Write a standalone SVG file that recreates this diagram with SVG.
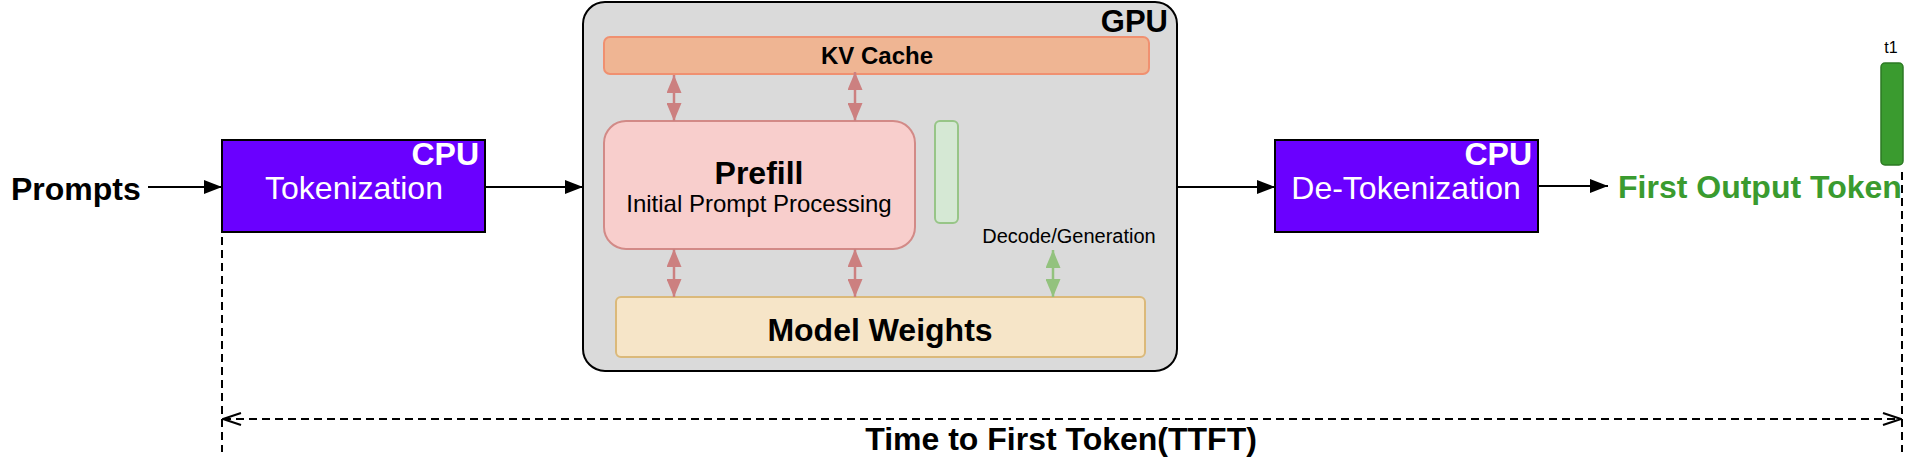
<svg xmlns="http://www.w3.org/2000/svg" width="1912" height="470" viewBox="0 0 1912 470">
<style>
text{font-family:"Liberation Sans",Arial,Helvetica,sans-serif}
.b{font-weight:bold}
.cpu{fill:#6a00ff;stroke:#000;stroke-width:2}
.wt{fill:#fff}
.flow{stroke:#000;stroke-width:2;fill:none}
.red{stroke:#cc8080;stroke-width:2.5;fill:none}
.grn{stroke:#93c27e;stroke-width:2.5;fill:none}
.dash{stroke:#000;stroke-width:2;fill:none;stroke-dasharray:8 5}
</style>
<defs>
<marker id="ah" viewBox="0 0 18 14" refX="18" refY="7" markerWidth="18" markerHeight="14" markerUnits="userSpaceOnUse" orient="auto"><path d="M0,0 L18,7 L0,14 Z" fill="#000"/></marker>
<marker id="rh" viewBox="0 0 18 15" refX="18" refY="7.5" markerWidth="18" markerHeight="15" markerUnits="userSpaceOnUse" orient="auto-start-reverse"><path d="M0,0 L18,7.5 L0,15 Z" fill="#cc8080"/></marker>
<marker id="gh" viewBox="0 0 18 15" refX="18" refY="7.5" markerWidth="18" markerHeight="15" markerUnits="userSpaceOnUse" orient="auto-start-reverse"><path d="M0,0 L18,7.5 L0,15 Z" fill="#93c27e"/></marker>
<marker id="oh" viewBox="0 0 20 14" refX="19" refY="7" markerWidth="20" markerHeight="14" markerUnits="userSpaceOnUse" orient="auto-start-reverse"><path d="M1,1 L19,7 L1,13" fill="none" stroke="#000" stroke-width="2"/></marker>
</defs>

<g id="prompts"><text class="b" x="11" y="200" font-size="32">Prompts</text></g>

<g id="tokenization">
<rect class="cpu" x="222" y="140" width="263" height="92"/>
<text class="b wt" x="479" y="165" font-size="32" text-anchor="end">CPU</text>
<text class="wt" x="354" y="199" font-size="32" text-anchor="middle">Tokenization</text>
</g>

<g id="gpu">
<rect x="583" y="2" width="594" height="369" rx="22" fill="#dadada" stroke="#000" stroke-width="2"/>
<text class="b" x="1168" y="32" font-size="31" text-anchor="end">GPU</text>
</g>

<g id="kvcache">
<rect x="604" y="37" width="545" height="37" rx="6" fill="#efb593" stroke="#f09070" stroke-width="2"/>
<text class="b" x="877" y="64" font-size="24" text-anchor="middle">KV Cache</text>
</g>

<g id="prefill">
<rect x="604" y="121" width="311" height="128" rx="22" fill="#f8cecc" stroke="#d28a87" stroke-width="2"/>
<text class="b" x="759" y="184" font-size="32" text-anchor="middle">Prefill</text>
<text x="759" y="212" font-size="24" text-anchor="middle">Initial Prompt Processing</text>
</g>

<g id="decode-slot">
<rect x="935" y="121" width="23" height="102" rx="5" fill="#d5e8d4" stroke="#97c587" stroke-width="2"/>
</g>

<g id="decode-label"><text x="1069" y="243" font-size="20" text-anchor="middle">Decode/Generation</text></g>

<g id="model-weights">
<rect x="616" y="297" width="529" height="60" rx="5" fill="#f6e5c8" stroke="#dbb97a" stroke-width="2"/>
<text class="b" x="880" y="341" font-size="32" text-anchor="middle">Model Weights</text>
</g>

<g id="detokenization">
<rect class="cpu" x="1275" y="140" width="263" height="92"/>
<text class="b wt" x="1532" y="165" font-size="32" text-anchor="end">CPU</text>
<text class="wt" x="1406" y="199" font-size="32" text-anchor="middle">De-Tokenization</text>
</g>

<g id="first-output">
<text class="b" x="1618" y="198" font-size="32" fill="#3a9b2f">First Output Token</text>
</g>

<g id="t1">
<rect x="1881" y="63" width="22" height="102" rx="4" fill="#3a9b2f" stroke="#2d7a24" stroke-width="1.5"/>
<text x="1891" y="53" font-size="16" text-anchor="middle">t1</text>
</g>

<g id="ttft-label"><text class="b" x="1061" y="450" font-size="32" text-anchor="middle">Time to First Token(TTFT)</text></g>

<g id="connectors">
<line class="flow" x1="148" y1="187" x2="222" y2="187" marker-end="url(#ah)"/>
<line class="flow" x1="485" y1="187" x2="583" y2="187" marker-end="url(#ah)"/>
<line class="flow" x1="1177" y1="187" x2="1275" y2="187" marker-end="url(#ah)"/>
<line class="flow" x1="1538" y1="186" x2="1608" y2="186" marker-end="url(#ah)"/>
<line class="red" x1="674" y1="75" x2="674" y2="121" marker-start="url(#rh)" marker-end="url(#rh)"/>
<line class="red" x1="855" y1="72" x2="855" y2="121" marker-start="url(#rh)" marker-end="url(#rh)"/>
<line class="red" x1="674" y1="249" x2="674" y2="297" marker-start="url(#rh)" marker-end="url(#rh)"/>
<line class="red" x1="855" y1="249" x2="855" y2="297" marker-start="url(#rh)" marker-end="url(#rh)"/>
<line class="grn" x1="1053" y1="250" x2="1053" y2="297" marker-start="url(#gh)" marker-end="url(#gh)"/>
<line class="dash" x1="222" y1="172" x2="222" y2="452"/>
<line class="dash" x1="1902" y1="172" x2="1902" y2="452"/>
<line class="dash" x1="223" y1="419" x2="1901" y2="419" marker-start="url(#oh)" marker-end="url(#oh)"/>
</g>
</svg>
